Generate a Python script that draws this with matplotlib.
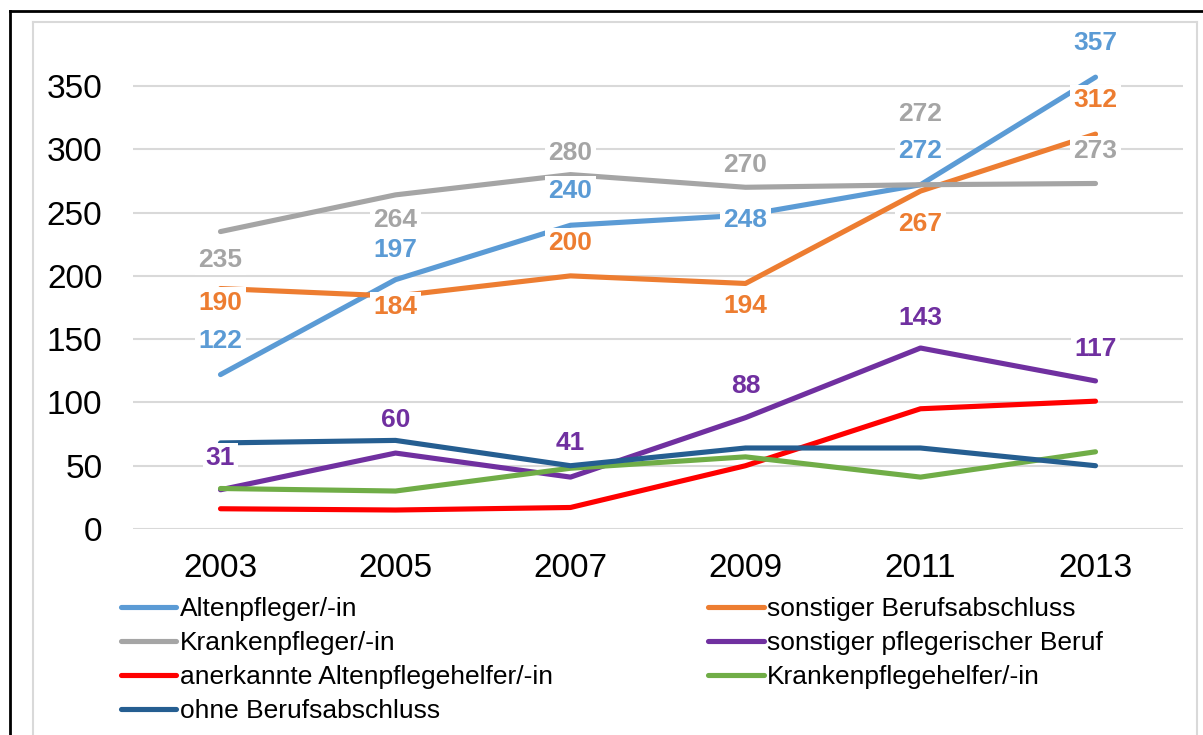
import matplotlib.pyplot as plt
from matplotlib.lines import Line2D

plt.rcParams['font.family'] = ['Liberation Sans', 'DejaVu Sans']

# data
years = ['2003', '2005', '2007', '2009', '2011', '2013']
altenpfleger = [122, 197, 240, 248, 272, 357]
sonst_abschluss = [190, 184, 200, 194, 267, 312]
krankenpfleger = [235, 264, 280, 270, 272, 273]
sonst_pflege = [31, 60, 41, 88, 143, 117]
ap_helfer = [16, 15, 17, 50, 95, 101]
kp_helfer = [32, 30, 48, 57, 41, 61]
ohne_abschluss = [68, 70, 50, 64, 64, 50]

names = ['Altenpfleger/-in', 'sonstiger Berufsabschluss', 'Krankenpfleger/-in',
         'sonstiger pflegerischer Beruf', 'anerkannte Altenpflegehelfer/-in',
         'Krankenpflegehelfer/-in', 'ohne Berufsabschluss']
series = [altenpfleger, sonst_abschluss, krankenpfleger, sonst_pflege,
          ap_helfer, kp_helfer, ohne_abschluss]
colors = ['#5B9BD5', '#ED7D31', '#A5A5A5', '#7030A0', '#FF0000', '#70AD47', '#255E91']
labelled = [True, True, True, True, False, False, False]

# label offsets in pixels (placement only)
offsets = {
    0: [34, 30, 34, -5, 34, 34],
    1: [-14, -11, 33, -23, -33, 34],
    2: [-28, -25, 22, 22, 71, 32],
    3: [32, 33, 34, 32, 30, 32],
}

fig = plt.figure(figsize=(12.03, 7.35), dpi=100)
ax = fig.add_axes([133 / 1203, 206 / 735, 1050 / 1203, 493.6 / 735])

x = list(range(len(years)))
lines = []
for i, (name, vals, col) in enumerate(zip(names, series, colors)):
    ln, = ax.plot(x, vals, color=col, lw=3.7, label=name, zorder=2,
                  solid_capstyle='round')
    lines.append(ln)

for i, vals in enumerate(series):
    if not labelled[i]:
        continue
    for j, v in enumerate(vals):
        ax.annotate(str(v), (x[j], v), xytext=(0, offsets[i][j]),
                    textcoords='offset pixels', ha='center', va='center',
                    fontsize=19, fontweight='bold', color=colors[i], zorder=5,
                    bbox=dict(boxstyle='square,pad=0.12', fc='white', ec='none'))

ax.set_xlim(-0.5, len(years) - 0.5)
ax.set_ylim(0, 390)
ax.set_yticks(range(0, 351, 50))
ax.set_xticks(x)
ax.set_xticklabels(years)
ax.tick_params(axis='both', length=0, labelsize=24)
ax.tick_params(axis='y', pad=22)
ax.tick_params(axis='x', pad=17)
ax.grid(axis='y', color='#D9D9D9', lw=1.5, zorder=0)
ax.set_axisbelow(True)
for s in ax.spines.values():
    s.set_visible(False)

# legend, row-major like the original
order = [0, 2, 4, 6, 1, 3, 5]
leg = fig.legend([lines[k] for k in order], [names[k] for k in order],
                 ncol=2, loc='upper left', bbox_to_anchor=(121 / 1203, 1 - 597 / 735),
                 frameon=False, fontsize=19, handlelength=2.1, handletextpad=0.12,
                 labelspacing=0.38, columnspacing=5.9, borderaxespad=0,
                 borderpad=0)

# frame lines
fig.add_artist(Line2D([10 / 1203, 10 / 1203], [0, 1 - 11 / 735], color='black', lw=2))
fig.add_artist(Line2D([10 / 1203, 1], [1 - 11 / 735, 1 - 11 / 735], color='black', lw=2))
fig.add_artist(Line2D([33 / 1203, 33 / 1203], [0, 1 - 22 / 735], color='#D9D9D9', lw=1.5))
fig.add_artist(Line2D([33 / 1203, 1197 / 1203], [1 - 22 / 735, 1 - 22 / 735], color='#D9D9D9', lw=1.5))
fig.add_artist(Line2D([1197 / 1203, 1197 / 1203], [0, 1 - 22 / 735], color='#D9D9D9', lw=1.5))

fig.savefig('out.png', dpi=100)
